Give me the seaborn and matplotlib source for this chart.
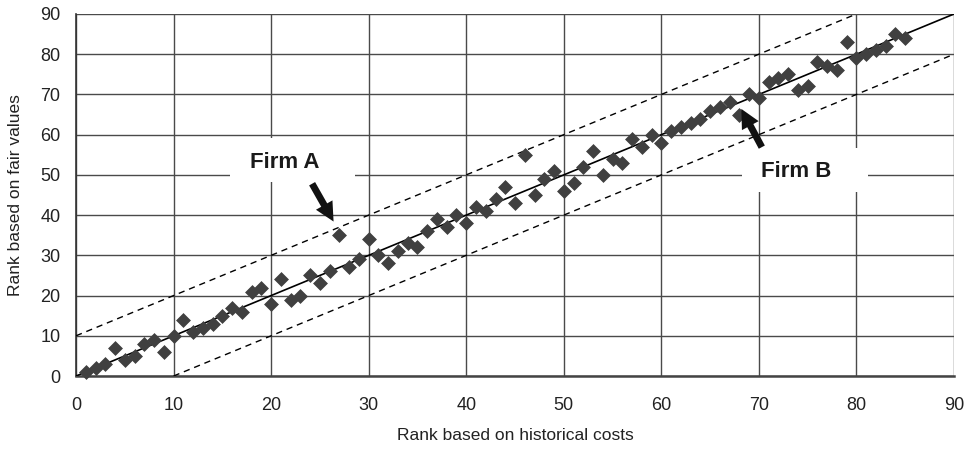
import matplotlib
matplotlib.use("Agg")
import matplotlib.pyplot as plt
from matplotlib.patches import Rectangle
import seaborn as sns
import numpy as np
import pandas as pd

# Data
hist_rank = list(range(1, 86))
fair_rank = [1, 2, 3, 7, 4, 5, 8, 9, 6, 10,
             14, 11, 12, 13, 15, 17, 16, 21, 22, 18,
             24, 19, 20, 25, 23, 26, 35, 27, 29, 34,
             30, 28, 31, 33, 32, 36, 39, 37, 40, 38,
             42, 41, 44, 47, 43, 55, 45, 49, 51, 46,
             48, 52, 56, 50, 54, 53, 59, 57, 60, 58,
             61, 62, 63, 64, 66, 67, 68, 65, 70, 69,
             73, 74, 75, 71, 72, 78, 77, 76, 83, 79,
             80, 81, 82, 85, 84]
ticks = [0, 10, 20, 30, 40, 50, 60, 70, 80, 90]
band = 10
labels = ["Firm A", "Firm B"]

df = pd.DataFrame({"hist": hist_rank, "fair": fair_rank})

sns.set_style("white")
plt.rcParams["font.family"] = ["Liberation Sans", "DejaVu Sans"]

fig = plt.figure(figsize=(9.71, 4.57), dpi=100)
ax = fig.add_axes([0.0783, 0.1772, 0.9042, 0.7922])

ax.set_xlim(0, 90)
ax.set_ylim(0, 90)
ax.set_xticks(ticks)
ax.set_yticks(ticks)
ax.grid(True, color="#4a4a4a", linewidth=1.0, zorder=0)
ax.set_axisbelow(True)

for s in ["top", "right"]:
    ax.spines[s].set_visible(False)
ax.spines["left"].set_color("#333333")
ax.spines["bottom"].set_color("#444444")
ax.spines["left"].set_linewidth(1.2)
ax.spines["bottom"].set_linewidth(1.8)

# Reference lines
ax.plot([0, 90], [0, 90], color="black", linewidth=1.2, zorder=3)
ax.plot([0, 90 - band], [band, 90], color="black", linewidth=1.0, linestyle=(0, (4.5, 3.5)), zorder=3)
ax.plot([band, 90], [0, 90 - band], color="black", linewidth=1.0, linestyle=(0, (4.5, 3.5)), zorder=3)

# White label boxes (cover the grid)
ax.add_patch(Rectangle((15.8, 48.2), 12.8, 11.0, facecolor="white", edgecolor="none", zorder=2))
ax.add_patch(Rectangle((68.3, 45.7), 12.9, 11.0, facecolor="white", edgecolor="none", zorder=2))

sns.scatterplot(data=df, x="hist", y="fair", marker="D", s=50, color="#404040",
                edgecolor="#404040", linewidth=0.5, ax=ax, zorder=4, clip_on=False)

ax.text(21.4, 53, labels[0], fontsize=16, fontweight="bold", ha="center", va="center",
        color="#1a1a1a", zorder=5)
ax.text(73.8, 50.8, labels[1], fontsize=16, fontweight="bold", ha="center", va="center",
        color="#1a1a1a", zorder=5)

arrow_style = "simple,head_length=1.05,head_width=1.05,tail_width=0.38"
ax.annotate("", xy=(26.4, 38.4), xytext=(24.2, 47.8),
            arrowprops=dict(arrowstyle=arrow_style, mutation_scale=13, fc="#111111", ec="none",
                            shrinkA=0, shrinkB=0),
            zorder=6)
ax.annotate("", xy=(68.2, 66.4), xytext=(70.3, 56.9),
            arrowprops=dict(arrowstyle=arrow_style, mutation_scale=13, fc="#111111", ec="none",
                            shrinkA=0, shrinkB=0),
            zorder=6)

ax.tick_params(axis="both", labelsize=13, colors="#222222", length=4.3, width=1.0,
               color="#555555", direction="out")
ax.tick_params(axis="y", pad=7)
ax.tick_params(axis="x", pad=11)
ax.set_xlabel("Rank based on historical costs", fontsize=12.5, color="#222222")
ax.set_ylabel("Rank based on fair values", fontsize=12.5, color="#222222")
ax.xaxis.set_label_coords(0.5, -0.143)
ax.yaxis.set_label_coords(-0.060, 0.5)

fig.savefig("out.png", dpi=100)
